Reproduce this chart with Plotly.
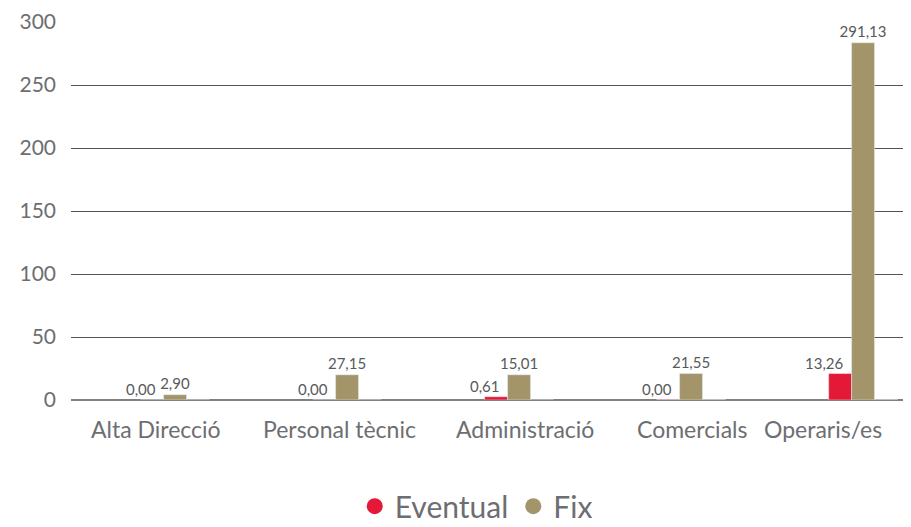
import plotly.graph_objects as go

# categories
categories = ["Alta Direcció", "Personal tècnic", "Administració", "Comercials", "Operaris/es"]

# bar heights as drawn in the picture
eventual = [0, 0, 2.6, 0.4, 21]
fix = [4.2, 20, 20, 21, 283.5]
other = [0, 0, 0, 0.4, 0.4]

# value labels as printed
eventual_txt = ["0,00", "0,00", "0,61", "0,00", "13,26"]
fix_txt = ["2,90", "27,15", "15,01", "21,55", "291,13"]

RED = "#e31937"
TAN = "#a39569"
GREY = "#6d6e71"
LBL = "#58595b"
FONT = "Lato"

fig = go.Figure()
fig.add_trace(go.Bar(x=categories, y=eventual, name="Eventual", marker_color=RED,
                     showlegend=False))
fig.add_trace(go.Bar(x=categories, y=fix, name="Fix", marker_color=TAN,
                     text=fix_txt, textposition="outside", showlegend=False,
                     textfont=dict(family=FONT, size=15, color=LBL), cliponaxis=False,
                     constraintext="none"))
fig.add_trace(go.Bar(x=categories, y=other, name="", marker_color="#7a6e55",
                     showlegend=False, hoverinfo="skip"))

# labels of the red bars sit to the left, right-aligned
for c, v, t in zip(categories, eventual, eventual_txt):
    fig.add_annotation(x=c, y=v, xref="x", yref="y", text=t, showarrow=False,
                       xanchor="right", yanchor="bottom", xshift=-17, yshift=0,
                       font=dict(family=FONT, size=15, color=LBL))

# legend with round markers
for name, col in [("Eventual", RED), ("Fix", TAN)]:
    fig.add_trace(go.Scatter(x=[None], y=[None], mode="markers", name=name,
                             marker=dict(color=col, size=24, symbol="circle")))

# category labels (shifted like the reference)
label_shift = [-19, -8, 6, 1, -40]
for c, s in zip(categories, label_shift):
    fig.add_annotation(x=c, y=0, xref="x", yref="y", text=c, showarrow=False,
                       yanchor="top", yshift=-13, xshift=s,
                       font=dict(family=FONT, size=23, color=GREY))

# the page adds an 8px body margin, so the plot box is set 8px up/left
fig.update_layout(
    width=911, height=527,
    margin=dict(l=63, r=9, t=14, b=135, autoexpand=False),
    paper_bgcolor="white", plot_bgcolor="white",
    barmode="group", bargap=0.6, bargroupgap=0,
    font=dict(family=FONT, color=GREY),
    legend=dict(orientation="h", x=0.483, xanchor="center", y=-0.212, yanchor="top",
                font=dict(size=30, color=GREY), itemsizing="trace"),
    xaxis=dict(range=[-0.605, 4.273], showticklabels=False, showgrid=False,
               showline=False, zeroline=False, ticks="", automargin=False),
    yaxis=dict(range=[0, 300], dtick=50, showgrid=True, gridcolor="#555555",
               gridwidth=1, zeroline=True, zerolinecolor="#808080", zerolinewidth=2,
               showline=False, ticks="", ticklabelstandoff=14, automargin=False,
               tickfont=dict(family=FONT, size=21, color=GREY)),
)

fig.write_html("out.html")
